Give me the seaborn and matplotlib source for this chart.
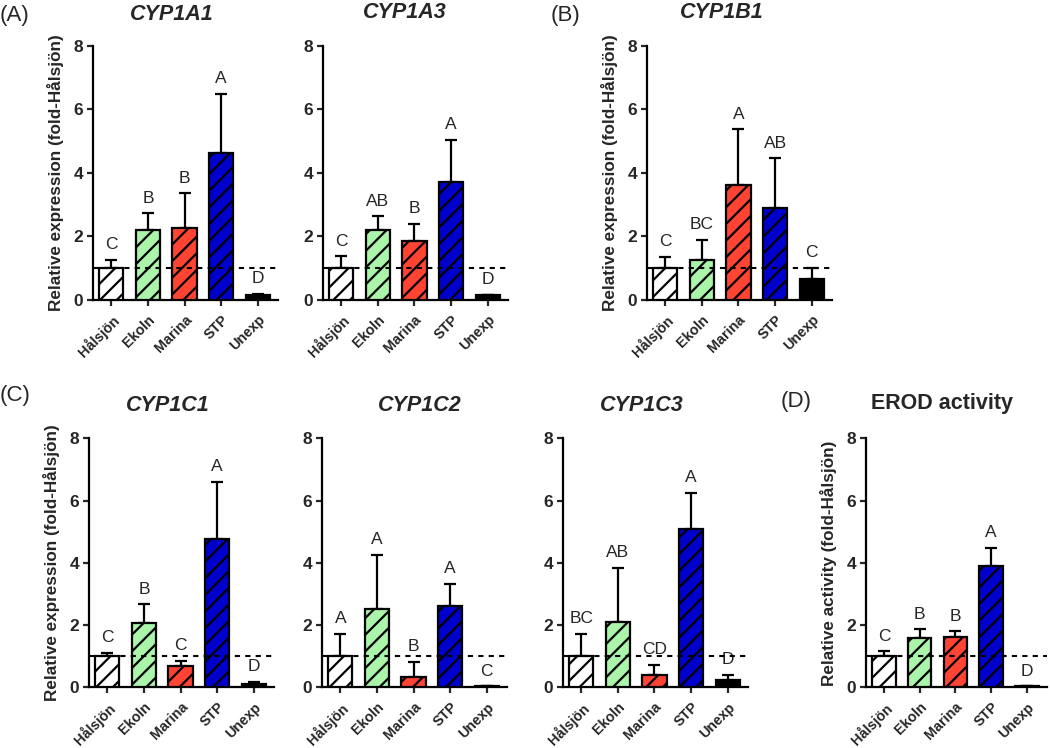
import matplotlib
matplotlib.use("Agg")
import matplotlib.pyplot as plt
import numpy as np
import pandas as pd
import seaborn as sns

# Data (mean and upper SEM per group)
groups = ["Hålsjön", "Ekoln", "Marina", "STP", "Unexp"]

cyp1a1_mean = [1.0, 2.21, 2.27, 4.62, 0.15]
cyp1a1_err = [0.26, 0.52, 1.09, 1.88, 0.04]
cyp1a1_letters = ["C", "B", "B", "A", "D"]

cyp1a3_mean = [1.0, 2.20, 1.86, 3.73, 0.15]
cyp1a3_err = [0.37, 0.44, 0.54, 1.32, 0.02]
cyp1a3_letters = ["C", "AB", "B", "A", "D"]

cyp1b1_mean = [1.0, 1.25, 3.63, 2.89, 0.67]
cyp1b1_err = [0.35, 0.65, 1.74, 1.57, 0.34]
cyp1b1_letters = ["C", "BC", "A", "AB", "C"]

cyp1c1_mean = [1.0, 2.06, 0.68, 4.76, 0.12]
cyp1c1_err = [0.12, 0.61, 0.18, 1.84, 0.06]
cyp1c1_letters = ["C", "B", "C", "A", "D"]

cyp1c2_mean = [1.0, 2.53, 0.34, 2.63, 0.03]
cyp1c2_err = [0.73, 1.73, 0.48, 0.70, 0.01]
cyp1c2_letters = ["A", "A", "B", "A", "C"]

cyp1c3_mean = [1.0, 2.10, 0.40, 5.09, 0.25]
cyp1c3_err = [0.73, 1.74, 0.33, 1.17, 0.15]
cyp1c3_letters = ["BC", "AB", "CD", "A", "D"]

erod_mean = [1.0, 1.60, 1.61, 3.89, 0.03]
erod_err = [0.16, 0.26, 0.20, 0.60, 0.01]
erod_letters = ["C", "B", "B", "A", "D"]

colors = ["#ffffff", "#aaf5aa", "#ff4433", "#0000cc", "#000000"]
hatches = ["//", "//", "//", "//", ""]

# Style
sns.set_theme(style="ticks")
plt.rcParams["font.family"] = ["Liberation Sans", "DejaVu Sans"]
plt.rcParams["hatch.linewidth"] = 1.6
plt.rcParams["axes.linewidth"] = 1.6

W, H = 1050, 748
fig = plt.figure(figsize=(W / 100, H / 100), dpi=100)


def px(x, y):
    return x / W, 1 - y / H


def panel(rect, mean, err, letters, ylabel=None):
    ax = fig.add_axes(rect)
    df = pd.DataFrame({"group": groups, "value": mean})
    sns.barplot(data=df, x="group", y="value", hue="group", palette=colors,
                saturation=1, width=0.66, edgecolor="black", linewidth=1.6,
                legend=False, errorbar=None, ax=ax, zorder=3)
    for bar, h in zip(ax.patches, hatches):
        bar.set_hatch(h)
    x = np.arange(len(groups))
    ax.errorbar(x, mean, yerr=[np.zeros(len(err)), err], fmt="none",
                ecolor="black", elinewidth=1.6, capsize=4, capthick=1.6, zorder=2)
    for xi, m, e, lab in zip(x, mean, err, letters):
        ax.text(xi, m + e + 0.24, lab, ha="center", va="bottom", fontsize=12.5)
    ax.axhline(1, color="black", ls=(0, (2.5, 2.5)), lw=1.5, zorder=4)
    ax.set_xlim(-0.5, 4.55)
    ax.set_ylim(0, 8)
    ax.set_yticks([0, 2, 4, 6, 8])
    ax.set_xlabel("")
    ax.set_ylabel(ylabel if ylabel else "", fontsize=12.3, fontweight="bold", labelpad=7)
    ax.set_xticks(x)
    ax.set_xticklabels(groups, rotation=45, ha="right", rotation_mode="anchor",
                       fontsize=10.3, fontweight="bold")
    for t in ax.get_yticklabels():
        t.set_fontweight("bold")
        t.set_fontsize(12.5)
    ax.tick_params(axis="both", direction="out", length=4, width=1.6, pad=3)
    ax.tick_params(axis="x", pad=5)
    ax.spines["left"].set_color("black")
    ax.spines["bottom"].set_color("black")
    sns.despine(ax=ax)
    return ax


ylab_expr = "Relative expression (fold-Hålsjön)"
ylab_act = "Relative activity (fold-Hålsjön)"

top_b, top_h = 0.599, 0.3396
bot_b, bot_h = 0.081, 0.333
w = 0.176

panel([0.0886, top_b, w, top_h], cyp1a1_mean, cyp1a1_err, cyp1a1_letters, ylab_expr)
panel([0.3076, top_b, w, top_h], cyp1a3_mean, cyp1a3_err, cyp1a3_letters)
panel([0.6162, top_b, w, top_h], cyp1b1_mean, cyp1b1_err, cyp1b1_letters, ylab_expr)
panel([0.0848, bot_b, w, bot_h], cyp1c1_mean, cyp1c1_err, cyp1c1_letters, ylab_expr)
panel([0.3067, bot_b, w, bot_h], cyp1c2_mean, cyp1c2_err, cyp1c2_letters)
panel([0.5362, bot_b, w, bot_h], cyp1c3_mean, cyp1c3_err, cyp1c3_letters)
panel([0.8248, bot_b, 0.172, bot_h], erod_mean, erod_err, erod_letters, ylab_act)

# Panel letters and titles
for lab, (x, y) in [("(A)", (0, 16)), ("(B)", (551, 16)), ("(C)", (0, 396)), ("(D)", (781, 401))]:
    fig.text(*px(x, y), lab, fontsize=16, ha="left", va="center")

for lab, (x, y) in [("CYP1A1", (172, 15)), ("CYP1A3", (405, 12)), ("CYP1B1", (722, 12)),
                    ("CYP1C1", (168, 405)), ("CYP1C2", (420, 405)), ("CYP1C3", (642, 405))]:
    fig.text(*px(x, y), lab, fontsize=15.5, fontweight="bold", style="italic",
             ha="center", va="center")
fig.text(*px(942, 403), "EROD activity", fontsize=15.5, fontweight="bold",
         ha="center", va="center")

fig.savefig("out.png", dpi=100)
